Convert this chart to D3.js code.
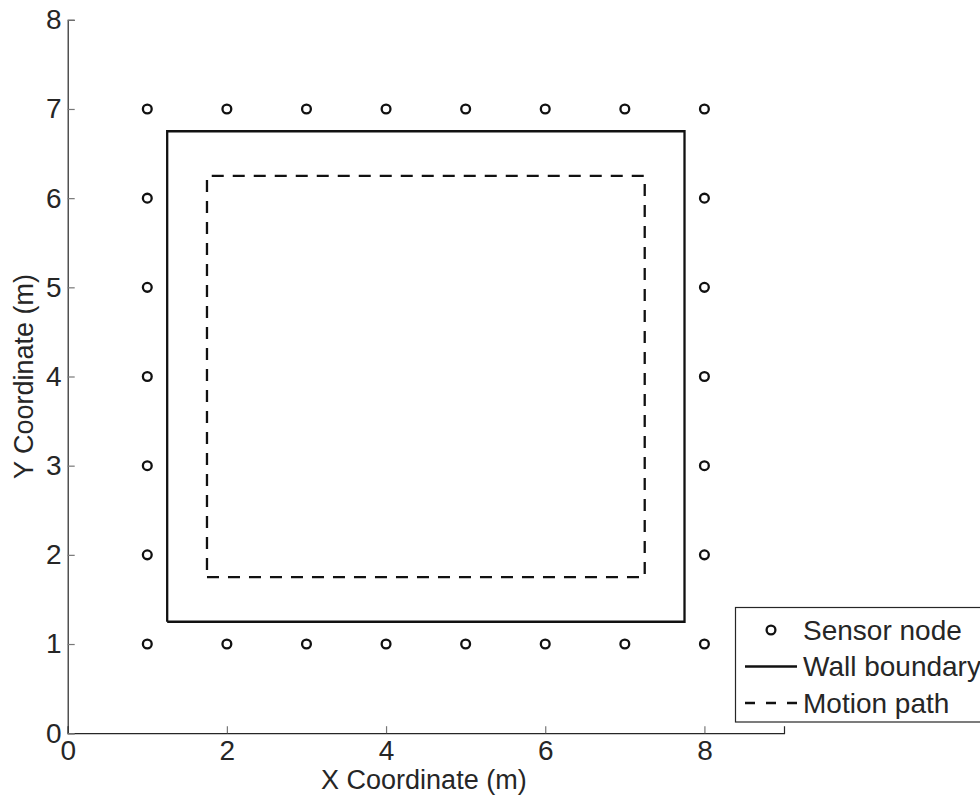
<!DOCTYPE html>
<html>
<head>
<meta charset="utf-8">
<script src="https://cdn.jsdelivr.net/npm/d3@7"></script>
<style>
  body { margin: 0; background: #fff; }
  svg { display: block; font-family: "Liberation Sans", Arial, sans-serif; }
</style>
</head>
<body>
<svg class="chart"></svg>
<script>
// sensor nodes along the perimeter
var sensorX = [1, 2, 3, 4, 5, 6, 7, 8, 1, 2, 3, 4, 5, 6, 7, 8, 1, 1, 1, 1, 1, 8, 8, 8, 8, 8];
var sensorY = [7, 7, 7, 7, 7, 7, 7, 7, 1, 1, 1, 1, 1, 1, 1, 1, 2, 3, 4, 5, 6, 2, 3, 4, 5, 6];
var wallX = [1.25, 7.75, 7.75, 1.25, 1.25];
var wallY = [1.25, 1.25, 6.75, 6.75, 1.25];
var pathX = [1.75, 7.25, 7.25, 1.75, 1.75];
var pathY = [1.75, 1.75, 6.25, 6.25, 1.75];
var xTicks = [0, 2, 4, 6, 8];
var yTicks = [0, 1, 2, 3, 4, 5, 6, 7, 8];
var legendLabels = ["Sensor node", "Wall boundary", "Motion path"];

(function show() {
    'use strict';
    var W = 980, H = 798;
    var svg = d3.select(".chart").attr("width", W).attr("height", H);

    var x = d3.scaleLinear().domain([0, 9]).range([67.7, 784]);
    var y = d3.scaleLinear().domain([0, 8]).range([733.2, 19.8]);
    var ink = "#262626", fs = 28;

    // axes
    var gx = svg.append("g").attr("transform", "translate(0," + y(0) + ")")
        .call(d3.axisBottom(x).tickValues(xTicks).tickSize(-7).tickPadding(14).tickFormat(d3.format("d")));
    var gy = svg.append("g").attr("transform", "translate(" + x(0) + ",0)")
        .call(d3.axisLeft(y).tickValues(yTicks).tickSize(-7).tickPadding(6).tickFormat(d3.format("d")));
    [gx, gy].forEach(function(g) {
        g.select(".domain").attr("stroke", ink).attr("stroke-width", 1.2);
        g.selectAll(".tick line").attr("stroke", "#777").attr("stroke-width", 1.2);
        g.selectAll(".tick text").attr("fill", ink).style("font-size", fs + "px")
            .style("font-family", "'Liberation Sans', Arial, sans-serif");
    });
    gx.selectAll(".tick text").attr("dy", "0.71em").attr("y", 7);

    // axis labels
    svg.append("text").attr("x", (x(0) + x(9)) / 2 - 2).attr("y", 789)
        .attr("text-anchor", "middle").attr("fill", ink).style("font-size", "27px")
        .text("X Coordinate (m)");
    svg.append("text").attr("transform", "translate(33," + (y(0) + y(8)) / 2 + ") rotate(-90)")
        .attr("text-anchor", "middle").attr("fill", ink).style("font-size", "27px")
        .text("Y Coordinate (m)");

    var line = d3.line().x(function(d) { return x(d[0]); }).y(function(d) { return y(d[1]); });

    svg.append("path").datum(d3.zip(wallX, wallY)).attr("d", line)
        .attr("fill", "none").attr("stroke", "#111").attr("stroke-width", 2.3);
    svg.append("path").datum(d3.zip(pathX, pathY)).attr("d", line)
        .attr("fill", "none").attr("stroke", "#111").attr("stroke-width", 2.3)
        .attr("stroke-dasharray", "12,9");

    svg.append("g").selectAll("circle").data(d3.zip(sensorX, sensorY)).enter()
        .append("circle")
        .attr("cx", function(d) { return x(d[0]); })
        .attr("cy", function(d) { return y(d[1]); })
        .attr("r", 4.4).attr("fill", "none").attr("stroke", "#111").attr("stroke-width", 2.3);

    // legend
    var lg = svg.append("g");
    lg.append("rect").attr("x", 735.5).attr("y", 607.5).attr("width", 260).attr("height", 114.5)
        .attr("fill", "#fff").attr("stroke", ink).attr("stroke-width", 1.2);
    var rows = [630, 666.5, 703];
    legendLabels.forEach(function(label, i) {
        var ry = rows[i];
        if (i === 0) {
            lg.append("circle").attr("cx", 771).attr("cy", ry).attr("r", 4.4)
                .attr("fill", "none").attr("stroke", "#111").attr("stroke-width", 2.3);
        } else {
            lg.append("line").attr("x1", 745).attr("x2", 797).attr("y1", ry).attr("y2", ry)
                .attr("stroke", "#111").attr("stroke-width", 2.3)
                .attr("stroke-dasharray", i === 2 ? "10,11" : null);
        }
        lg.append("text").attr("x", 803).attr("y", ry).attr("dy", "0.35em")
            .attr("fill", ink).style("font-size", fs + "px").text(label);
    });
})();
</script>
</body>
</html>
